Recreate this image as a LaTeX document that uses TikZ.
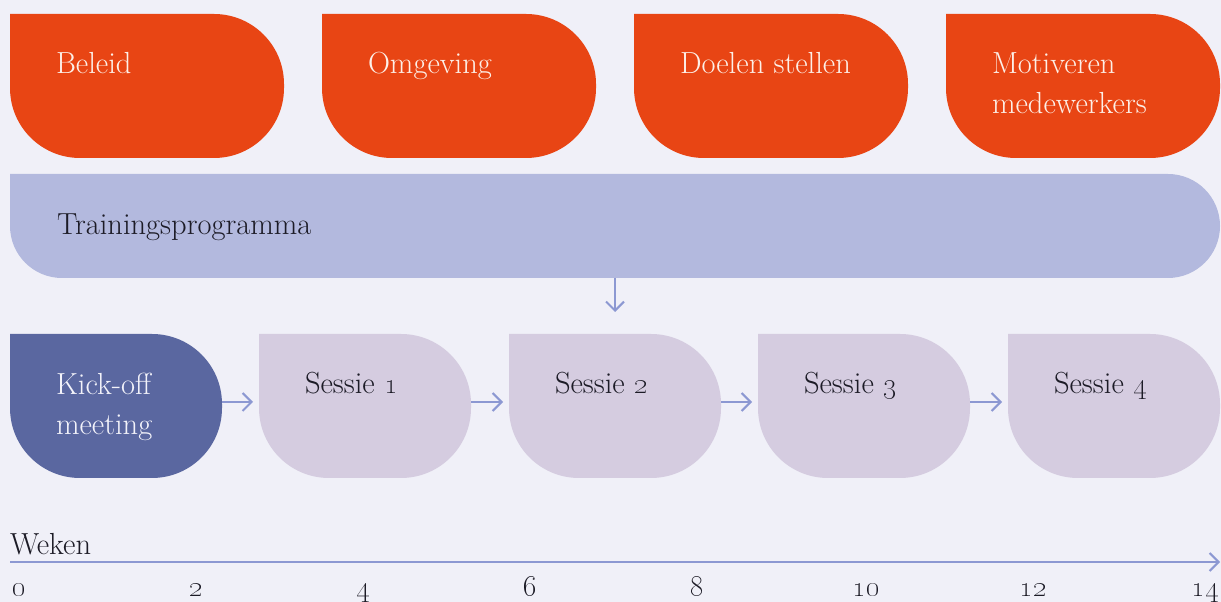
\documentclass[tikz,border=0pt]{standalone}
\usetikzlibrary{arrows.meta,calc}

% old-style figures scale freely at any size
\DeclareFontShape{OML}{cmm}{m}{it}{<-> cmmi10}{\skewchar\font=127}

\definecolor{bg}{HTML}{F0F0F8}
\definecolor{tomato}{HTML}{E84514}
\definecolor{lilac}{HTML}{B3B9DE}
\definecolor{indigo}{HTML}{5A67A0}
\definecolor{mauve}{HTML}{D5CCE0}
\definecolor{linkblue}{HTML}{8C98D2}
\definecolor{cream}{HTML}{FDF0E8}
\definecolor{paper}{HTML}{F3F3FA}
\definecolor{ink}{HTML}{1C1B26}

\tikzset{
  % block with a square top-left corner and three rounded corners
  leaf/.style 2 args={
    shape=rectangle, inner sep=0pt, outer sep=0pt,
    path picture={
      \fill[#1] (path picture bounding box.north west)
        -- ([xshift=-#2]path picture bounding box.north east)
        arc[start angle=90, end angle=0, radius=#2]
        -- ([yshift=#2]path picture bounding box.south east)
        arc[start angle=0, end angle=-90, radius=#2]
        -- ([xshift=#2]path picture bounding box.south west)
        arc[start angle=270, end angle=180, radius=#2]
        -- cycle;
    }
  },
  topblock/.style={leaf={tomato}{70pt}, minimum width=274pt, minimum height=144pt, anchor=north west},
  rowblock/.style={leaf={#1}{70pt}, minimum width=212pt, minimum height=144pt, anchor=north west},
  lbl/.style={inner sep=0pt, outer sep=0pt, font=\fontsize{30.5}{40}\selectfont, align=left},
  ticklbl/.style={inner sep=0pt, outer sep=0pt, font=\fontsize{30}{32}\selectfont},
  arr/.style={draw=linkblue, line width=2pt, -{Straight Barb[length=9pt,width=18pt]}},
}

\begin{document}
\begin{tikzpicture}[x=1pt, y=1pt]
  \fill[bg] (0,0) rectangle (1221,602);
  \useasboundingbox (0,0) rectangle (1221,602);

  % top row of themes
  \node[topblock] (beleid)   at (10,588)  {};
  \node[topblock] (omgeving) at (322,588) {};
  \node[topblock] (doelen)   at (634,588) {};
  \node[topblock] (motiv)    at (946,588) {};
  \node[lbl, text=cream, anchor=base west] at ($(beleid.north west)+(46,-60)$)   {Beleid};
  \node[lbl, text=cream, anchor=base west] at ($(omgeving.north west)+(46,-60)$) {Omgeving};
  \node[lbl, text=cream, anchor=base west] at ($(doelen.north west)+(46,-60)$)   {Doelen stellen};
  % two-line labels: the base anchor sits on the last line
  \node[lbl, text=cream, anchor=base west] at ($(motiv.north west)+(46,-100)$)   {Motiveren\\medewerkers};

  % programme bar
  \node[leaf={lilac}{52pt}, minimum width=1210pt, minimum height=104pt, anchor=north west] (train) at (10,428) {};
  \node[lbl, text=ink, anchor=base west] at ($(train.north west)+(47,-61)$) {Trainingsprogramma};

  % sessions
  \node[rowblock=indigo] (kick) at (10,268)   {};
  \node[rowblock=mauve]  (s1)   at (259,268)  {};
  \node[rowblock=mauve]  (s2)   at (509,268)  {};
  \node[rowblock=mauve]  (s3)   at (758,268)  {};
  \node[rowblock=mauve]  (s4)   at (1008,268) {};
  \node[lbl, text=paper, anchor=base west] at ($(kick.north west)+(46,-101)$) {Kick-off\\meeting};
  \node[lbl, text=ink, anchor=base west] at ($(s1.north west)+(46,-60)$) {Sessie \oldstylenums{1}};
  \node[lbl, text=ink, anchor=base west] at ($(s2.north west)+(46,-60)$) {Sessie \oldstylenums{2}};
  \node[lbl, text=ink, anchor=base west] at ($(s3.north west)+(46,-60)$) {Sessie \oldstylenums{3}};
  \node[lbl, text=ink, anchor=base west] at ($(s4.north west)+(46,-60)$) {Sessie \oldstylenums{4}};

  \draw[arr, shorten >=22pt] (train.south) -- (train.south |- s2.north);
  \foreach \a/\b in {kick/s1, s1/s2, s2/s3, s3/s4}
    \draw[arr, shorten >=6pt] ([yshift=4pt]\a.east) -- ([yshift=4pt]\b.west);

  % time axis in weeks
  \coordinate (axis0) at (10,40);
  \coordinate (axis1) at (1220,40);
  \draw[arr] (axis0) -- (axis1);
  \node[lbl, text=ink, anchor=base west] (weken) at (10,47) {Weken};
  \foreach \x/\n in {19/0, 196/2, 363/4, 530/6, 697/8, 866/10, 1033/12, 1205/14}
    \node[ticklbl, text=ink, anchor=base] (tick\n) at (\x,5) {\oldstylenums{\n}};
\end{tikzpicture}
\end{document}
